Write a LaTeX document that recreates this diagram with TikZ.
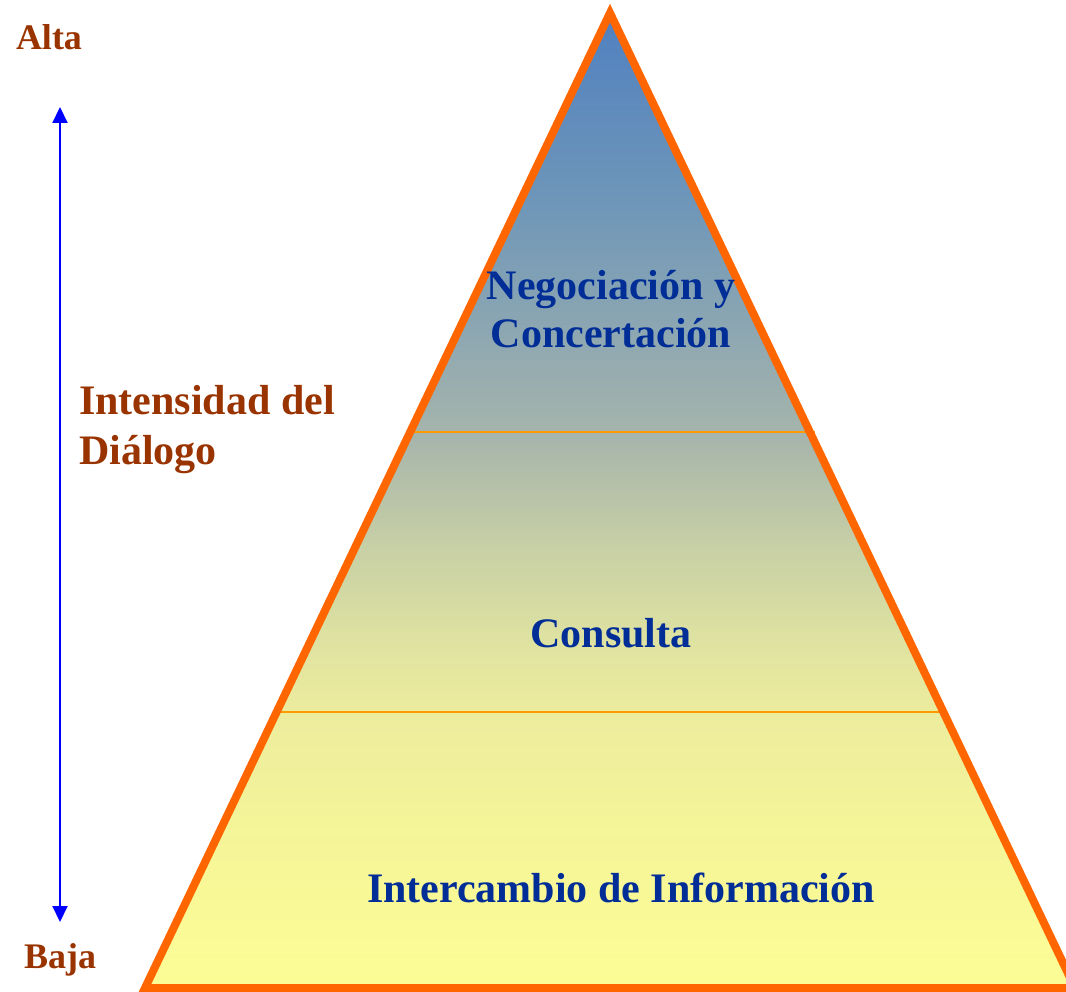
\documentclass[tikz,border=0pt]{standalone}
\usepackage{fontspec}
\setmainfont{Liberation Serif}
\usetikzlibrary{arrows.meta}
\definecolor{sA}{RGB}{253,253,150}
\definecolor{sB}{RGB}{246,246,152}
\definecolor{sC}{RGB}{236,236,158}
\definecolor{sD}{RGB}{225,228,160}
\definecolor{sE}{RGB}{200,208,165}
\definecolor{sF}{RGB}{165,180,172}
\definecolor{sG}{RGB}{110,150,185}
\definecolor{sH}{RGB}{80,128,192}
\pgfdeclareverticalshading{pyramidfill}{100bp}{color(0bp)=(sA); color(25bp)=(sA); color(32.1bp)=(sB); color(39.2bp)=(sC); color(42.3bp)=(sD); color(47.5bp)=(sE); color(53.5bp)=(sF); color(65.4bp)=(sG); color(75bp)=(sH); color(100bp)=(sH)}
\definecolor{edgeorange}{RGB}{255,102,0}
\definecolor{lineorange}{RGB}{255,153,0}
\definecolor{txtblue}{RGB}{0,45,150}
\definecolor{txtbrown}{RGB}{153,51,0}
\tikzset{
  leveltext/.style={text=txtblue, font=\bfseries\fontsize{42}{48}\selectfont, align=center, inner sep=0pt},
  sidetext/.style={text=txtbrown, font=\bfseries\fontsize{36}{40}\selectfont, inner sep=0pt},
  axistext/.style={text=txtbrown, font=\bfseries\fontsize{42}{50}\selectfont, align=left, inner sep=0pt, anchor=west},
  divider/.style={draw=lineorange, line width=2pt},
  intensity/.style={draw=blue, line width=2pt, {Triangle[width=15pt,length=16pt]}-{Triangle[width=15pt,length=16pt]}}
}
\begin{document}
\begin{tikzpicture}[x=1pt,y=-1pt]
\useasboundingbox (0,0) rectangle (1066,992);
\coordinate (apex) at (610,13);
\coordinate (bl) at (145,988);
\coordinate (br) at (1075,988);
\shade[shading=pyramidfill] (apex) -- (br) -- (bl) -- cycle;
\draw[divider] (408,432) -- (815,432);
\draw[divider] (280,712) -- (942,712);
\draw[edgeorange, line width=8pt, line join=miter] (apex) -- (br) -- (bl) -- cycle;
\node[leveltext] (neg) at (611,309) {Negociación y\\Concertación};
\node[leveltext] (con) at (611,633) {Consulta};
\node[leveltext] (inf) at (621,888) {Intercambio de Información};
\node[sidetext] (alta) at (49,37) {Alta};
\node[sidetext] (baja) at (60,960) {Baja};
\node[axistext] (int) at (79,430) {Intensidad del\\Diálogo};
\coordinate (atop) at (60,107);
\coordinate (abot) at (60,922);
\draw[intensity] (atop) -- (abot);
\end{tikzpicture}
\end{document}
